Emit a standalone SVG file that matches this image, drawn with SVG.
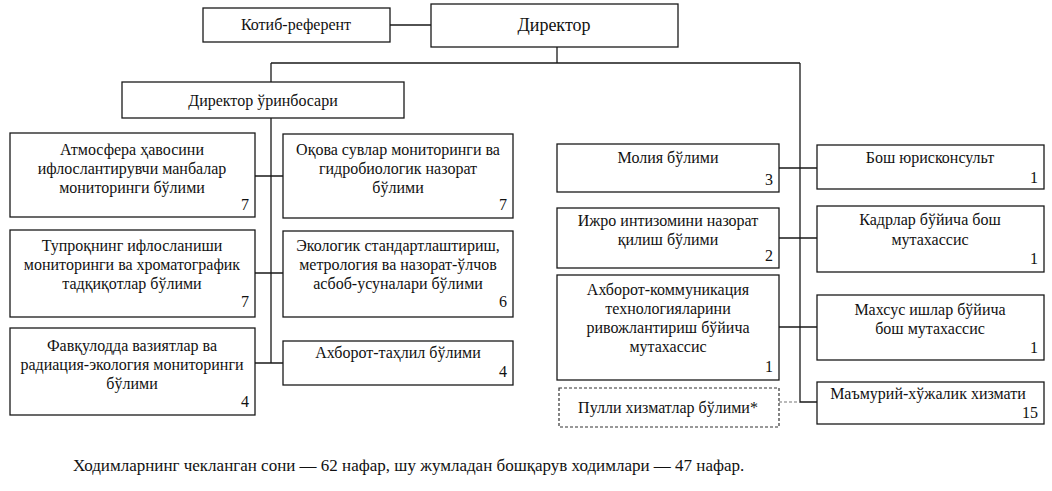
<svg xmlns="http://www.w3.org/2000/svg" width="1052" height="491" viewBox="0 0 1052 491" font-family="'Liberation Serif','DejaVu Serif',serif">
<style>
.b{fill:#fff;stroke:#1a1a1a;stroke-width:1.3}
.d{fill:#fff;stroke:#333;stroke-width:1.2;stroke-dasharray:3 2}
text{font-family:'Liberation Serif','DejaVu Serif',serif;font-size:16px;fill:#111}
.c{text-anchor:middle}
.n{text-anchor:end}
.l{fill:none;stroke:#1a1a1a;stroke-width:1.3}
.dl{fill:none;stroke:#777;stroke-width:1.2;stroke-dasharray:3 2}
</style>
<rect width="1052" height="491" fill="#fff"/>
<g id="connectors">
<path class="l" d="M390 25H431M557 47V63M271 63H800M271 63V82M271 118V363M255 176H283M255 273H283M255 363H283M800 63V402H817M779 168H817M779 238H817M779 327H817"/>
<path class="dl" d="M779 402H800"/>
</g>
<g id="kotib"><rect class="b" x="203" y="8" width="187" height="34"/><text class="c" x="296" y="30">Котиб-референт</text></g>
<g id="director"><rect class="b" x="431" y="4" width="247" height="43"/><text class="c" x="554" y="31" style="font-size:18px">Директор</text></g>
<g id="deputy"><rect class="b" x="122" y="82" width="282" height="36"/><text class="c" x="263" y="106">Директор ўринбосари</text></g>
<g id="atmos"><rect class="b" x="10" y="133" width="245" height="84"/>
<text class="c" x="132" y="155">Атмосфера ҳавосини</text><text class="c" x="132" y="174">ифлослантирувчи манбалар</text><text class="c" x="132" y="193">мониторинги бўлими</text><text class="n" x="249" y="210">7</text></g>
<g id="tuproq"><rect class="b" x="10" y="230" width="245" height="87"/>
<text class="c" x="132" y="251">Тупроқнинг ифлосланиши</text><text class="c" x="132" y="270">мониторинги ва хроматографик</text><text class="c" x="132" y="289">тадқиқотлар бўлими</text><text class="n" x="249" y="307">7</text></g>
<g id="favq"><rect class="b" x="10" y="328" width="245" height="87"/>
<text class="c" x="132" y="351">Фавқулодда вазиятлар ва</text><text class="c" x="132" y="370">радиация-экология мониторинги</text><text class="c" x="132" y="389">бўлими</text><text class="n" x="249" y="407">4</text></g>
<g id="oqova"><rect class="b" x="283" y="134" width="230" height="84"/>
<text class="c" x="398" y="155">Оқова сувлар мониторинги ва</text><text class="c" x="398" y="174">гидробиологик назорат</text><text class="c" x="398" y="193">бўлими</text><text class="n" x="507" y="210">7</text></g>
<g id="ekolog"><rect class="b" x="283" y="231" width="230" height="86"/>
<text class="c" x="398" y="251">Экологик стандартлаштириш,</text><text class="c" x="398" y="270">метрология ва назорат-ўлчов</text><text class="c" x="398" y="289">асбоб-усуналари бўлими</text><text class="n" x="507" y="307">6</text></g>
<g id="axtahlil"><rect class="b" x="283" y="341" width="230" height="44"/>
<text class="c" x="398" y="358">Ахборот-таҳлил бўлими</text><text class="n" x="507" y="377">4</text></g>
<g id="moliya"><rect class="b" x="557" y="144" width="222" height="48"/>
<text class="c" x="668" y="163">Молия бўлими</text><text class="n" x="773" y="185">3</text></g>
<g id="ijro"><rect class="b" x="557" y="208" width="222" height="60"/>
<text class="c" x="668" y="226">Ижро интизомини назорат</text><text class="c" x="668" y="245">қилиш бўлими</text><text class="n" x="773" y="261">2</text></g>
<g id="akt"><rect class="b" x="557" y="275" width="222" height="105"/>
<text class="c" x="668" y="295">Ахборот-коммуникация</text><text class="c" x="668" y="314">технологияларини</text><text class="c" x="668" y="333">ривожлантириш бўйича</text><text class="c" x="668" y="352">мутахассис</text><text class="n" x="773" y="372">1</text></g>
<g id="pulli"><rect class="d" x="559" y="388" width="220" height="39"/>
<text class="c" x="668" y="413">Пулли хизматлар бўлими*</text></g>
<g id="yurist"><rect class="b" x="817" y="145" width="227" height="44"/>
<text class="c" x="930" y="163">Бош юрисконсульт</text><text class="n" x="1038" y="183">1</text></g>
<g id="kadr"><rect class="b" x="817" y="206" width="227" height="66"/>
<text class="c" x="930" y="225">Кадрлар бўйича бош</text><text class="c" x="930" y="245">мутахассис</text><text class="n" x="1038" y="264">1</text></g>
<g id="maxsus"><rect class="b" x="817" y="295" width="227" height="65"/>
<text class="c" x="930" y="315">Махсус ишлар бўйича</text><text class="c" x="930" y="334">бош мутахассис</text><text class="n" x="1038" y="353">1</text></g>
<g id="mamur"><rect class="b" x="817" y="382" width="227" height="42"/>
<text class="c" x="928" y="399">Маъмурий-хўжалик хизмати</text><text class="n" x="1038" y="418">15</text></g>
<text x="73" y="471" style="font-size:17px">Ходимларнинг чекланган сони — 62 нафар, шу жумладан бошқарув ходимлари — 47 нафар.</text>
</svg>
